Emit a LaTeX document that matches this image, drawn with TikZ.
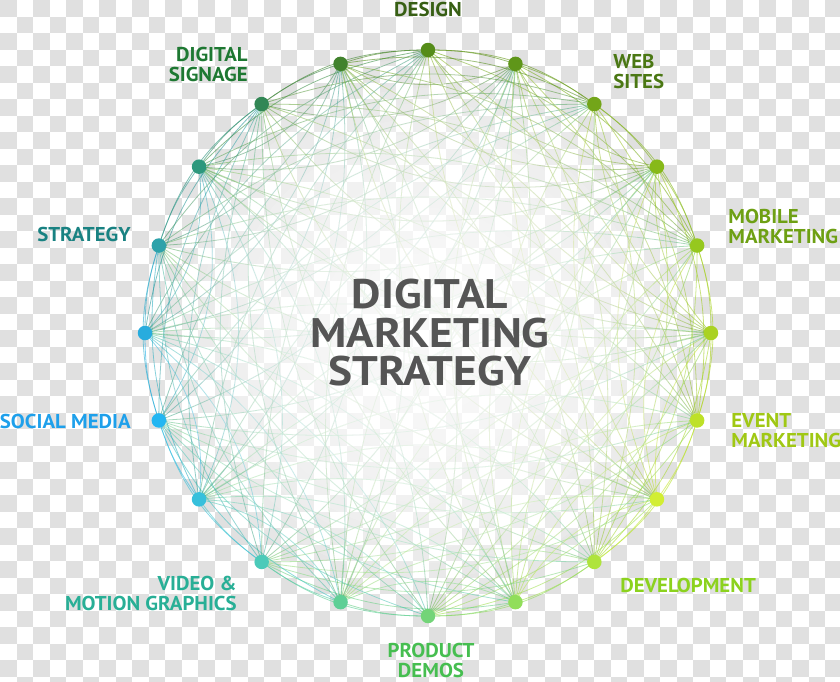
\documentclass[tikz,border=0pt]{standalone}
\usepackage{fontspec}
\setmainfont{PT Sans}
\newfontfamily\hubfont[FakeStretch=1.1]{PT Sans}
\newfontfamily\topicfont[FakeStretch=1.04]{PT Sans}

\definecolor{checkgray}{RGB}{224,224,224}
\definecolor{hubgray}{RGB}{85,85,85}
\definecolor{c0}{RGB}{85,140,25}
\definecolor{c1}{RGB}{95,150,25}
\definecolor{c2}{RGB}{115,165,25}
\definecolor{c3}{RGB}{135,185,25}
\definecolor{c4}{RGB}{150,200,30}
\definecolor{c5}{RGB}{170,210,35}
\definecolor{c6}{RGB}{190,225,40}
\definecolor{c7}{RGB}{210,238,50}
\definecolor{c8}{RGB}{175,228,60}
\definecolor{c9}{RGB}{145,222,90}
\definecolor{c10}{RGB}{115,212,120}
\definecolor{c11}{RGB}{95,207,150}
\definecolor{c12}{RGB}{75,202,185}
\definecolor{c13}{RGB}{55,192,220}
\definecolor{c14}{RGB}{35,182,242}
\definecolor{c15}{RGB}{40,172,222}
\definecolor{c16}{RGB}{45,162,170}
\definecolor{c17}{RGB}{45,152,125}
\definecolor{c18}{RGB}{50,135,85}
\definecolor{c19}{RGB}{65,130,45}
\definecolor{ldesign}{RGB}{55,95,20}
\definecolor{lsites}{RGB}{75,120,20}
\definecolor{lmobile}{RGB}{110,160,20}
\definecolor{levent}{RGB}{160,200,20}
\definecolor{ldevel}{RGB}{140,210,30}
\definecolor{lproduct}{RGB}{70,190,80}
\definecolor{lvideo}{RGB}{40,175,150}
\definecolor{lsocial}{RGB}{30,160,235}
\definecolor{lstrategy}{RGB}{25,130,130}
\definecolor{lsignage}{RGB}{30,120,50}

\begin{document}
\begin{tikzpicture}[x=0.02cm,y=-0.02cm,
                    dot/.style={circle,inner sep=0pt,minimum size=0.29cm},
                    chord/.style={line width=0.45pt,draw opacity=0.6},
                    topic/.style={font=\topicfont\fontsize{11.4}{11.4}\selectfont\bfseries,inner sep=0pt},
                    hub/.style={font=\hubfont\fontsize{23.5}{21.9}\selectfont\bfseries,text=hubgray,
                                align=center,inner sep=0pt}]

  \useasboundingbox (0,0) rectangle (840,681);
  \fill[white] (0,0) rectangle (840,681);
  \foreach \r in {0,...,41}{
    \pgfmathtruncatemacro\s{mod(\r,2)}
    \foreach \c in {0,2,...,50}
      \fill[checkgray] ({(\c+\s)*16.5},{\r*16.5}) rectangle ++(16.5,16.5);
  }

  \foreach \i in {0,...,19}
    \coordinate (p\i) at ({428+283*sin(18*\i)},{333-283*cos(18*\i)});

  \foreach \i in {0,...,19}{
    \pgfmathtruncatemacro\n{mod(\i+1,20)}
    \path (p\i) edge[chord,draw=c\i!50!c\n,bend left=9] (p\n);
    \foreach \k in {2,...,9}{
      \pgfmathtruncatemacro\j{mod(\i+\k,20)}
      \pgfmathtruncatemacro\b{ifthenelse(mod(\i+\k,2)==0,18,-24)}
      \path (p\i) edge[chord,draw=c\i!50!c\j,bend left=\b] (p\j);
    }
  }

  \foreach \rr in {20,35,...,275}
    \fill[white,opacity=0.12] (428,333) circle (\rr);

  \foreach \i in {0,...,19}
    \node[dot,fill=c\i] (d\i) at (p\i) {};

  \node[hub] (hub) at (430,333) {DIGITAL\\MARKETING\\STRATEGY};

  \node[topic,text=ldesign]                          (design)   at (428,9)     {DESIGN};
  \node[topic,text=lsites,align=left,anchor=west]    (sites)    at (613,72)    {WEB\\SITES};
  \node[topic,text=lmobile,align=left,anchor=west]   (mobile)   at (728,226.5) {MOBILE\\MARKETING};
  \node[topic,text=levent,align=left,anchor=west]    (event)    at (731,430.5) {EVENT\\MARKETING};
  \node[topic,text=ldevel,anchor=west]               (devel)    at (620,585)   {DEVELOPMENT};
  \node[topic,text=lproduct,align=center]            (product)  at (431,660)   {PRODUCT\\DEMOS};
  \node[topic,text=lvideo,align=right,anchor=east]   (video)    at (237,593)   {VIDEO \&\\MOTION GRAPHICS};
  \node[topic,text=lsocial,anchor=east]              (social)   at (131,421)   {SOCIAL MEDIA};
  \node[topic,text=lstrategy,anchor=east]            (strategy) at (131,234)   {STRATEGY};
  \node[topic,text=lsignage,align=right,anchor=east] (signage)  at (248,64)    {DIGITAL\\SIGNAGE};
\end{tikzpicture}
\end{document}
